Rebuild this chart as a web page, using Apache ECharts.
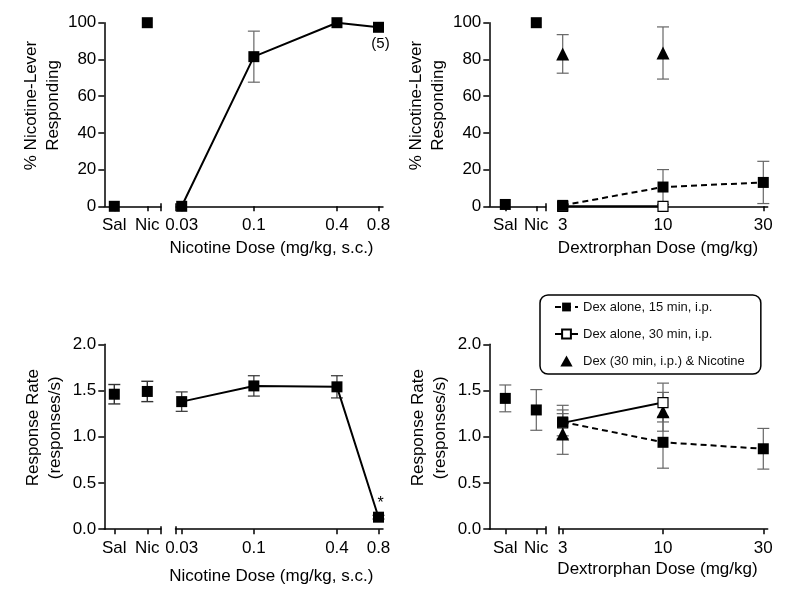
<!DOCTYPE html>
<html><head><meta charset="utf-8">
<script src="https://cdn.jsdelivr.net/npm/echarts@6/dist/echarts.min.js"></script>
<style>html,body{margin:0;padding:0;background:#fff}#c{width:800px;height:599px}</style>
</head><body><div id="c"></div>
<script>
// ---------------- data ----------------
const ctrlCats = ['Sal', 'Nic'];
const nicDoses = [0.03, 0.1, 0.4, 0.8];
const dexDoses = ['3', '10', '30'];
const pctTicks = [0, 20, 40, 60, 80, 100];
const rateTicks = [0, 0.5, 1.0, 1.5, 2.0];
const seriesNames = ['Dex alone, 15 min, i.p.', 'Dex alone, 30 min, i.p.', 'Dex (30 min, i.p.) & Nicotine'];

// Panel A (top-left): % nicotine-lever responding, nicotine doses
const aCtrlMean = [0, 100];
const aCtrlSem = [0, 0];
const aNicMean = [0, 81.5, 100, 97.5];
const aNicSem = [0, 13.9, 0, 0];
const aNicNote = ['', '', '', '(5)'];

// Panel B (top-right): % nicotine-lever responding, dextrorphan
const bCtrlMean = [1, 100];
const bCtrlSem = [0, 0];
const bDex15Mean = [0.5, 10.5, 13];
const bDex15Sem = [0, 9.5, 11.5];
const bDex30Mean = [0, 0, null];
const bDex30Sem = [0, 0, null];
const bDexNicMean = [83, 83.5, null];
const bDexNicSem = [10.5, 14.2, null];

// Panel C (bottom-left): response rate, nicotine doses
const cCtrlMean = [1.46, 1.49];
const cCtrlSem = [0.105, 0.11];
const cNicMean = [1.38, 1.55, 1.54, 0.13];
const cNicSem = [0.105, 0.11, 0.12, 0.02];
const cNicNote = ['', '', '', '*'];

// Panel D (bottom-right): response rate, dextrorphan
const dCtrlMean = [1.415, 1.29];
const dCtrlSem = [0.145, 0.22];
const dDex15Mean = [1.16, 0.94, 0.87];
const dDex15Sem = [0.18, 0.28, 0.22];
const dDex30Mean = [1.15, 1.37, null];
const dDex30Sem = [0.14, 0.21, null];
const dDexNicMean = [1.03, 1.27, null];
const dDexNicSem = [0.22, 0.21, null];

// ---------------- layout / style ----------------
const F = '"Liberation Sans", Arial, Helvetica, sans-serif';
const BLACK = '#000';
const AX = {color: BLACK, width: 1.5};
const LAY = {
  A: {yx: 104.3, sal: 114.3, nic: 147.3, ce: 161, ds: 176.2, d0: 181.7, d1: 378.5, de: 383, top: 22.7, bot: 206.3},
  B: {yx: 489.3, sal: 505.3, nic: 536.3, ce: 545.7, ds: 559, d0: 562.7, d1: 763.3, de: 767.7, top: 22.7, bot: 206.3},
  C: {yx: 104.3, sal: 114.3, nic: 147.3, ce: 161, ds: 175.5, d0: 181.7, d1: 378.5, de: 383, top: 344.3, bot: 529.2},
  D: {yx: 489.3, sal: 505.3, nic: 536.3, ce: 545.7, ds: 559, d0: 562.7, d1: 763.3, de: 767.7, top: 344.3, bot: 529.2}
};

const grid = [], xAxis = [], yAxis = [], series = [];
function addGrid(l, r, t, b) {
  grid.push({left: l, top: t, width: r - l, height: b - t, containLabel: false, outerBoundsMode: 'none'});
  return grid.length - 1;
}
const lbl = {color: BLACK, fontFamily: F, fontSize: 17, margin: 11};
function frameX(gi, cap) {
  xAxis.push({gridIndex: gi, type: 'value', min: 0, max: 1, position: 'bottom',
    axisLine: {show: true, onZero: false, lineStyle: AX},
    axisTick: {show: true, customValues: [cap], length: 5, inside: false, lineStyle: AX},
    axisLabel: {show: false}, splitLine: {show: false}});
  xAxis.push({gridIndex: gi, type: 'value', min: 0, max: 1, position: 'bottom',
    axisLine: {show: false, onZero: false},
    axisTick: {show: true, customValues: [cap], length: 3, inside: true, lineStyle: AX},
    axisLabel: {show: false}, splitLine: {show: false}});
}
function hiddenY(gi, ticks) {
  yAxis.push({gridIndex: gi, type: 'value', min: ticks[0], max: ticks[ticks.length - 1], show: false});
  return yAxis.length - 1;
}
function visibleY(gi, ticks, fmt, name, shift) {
  yAxis.push({gridIndex: gi, type: 'value', position: 'left', min: ticks[0], max: ticks[ticks.length - 1],
    axisLine: {show: true, onZero: false, lineStyle: AX},
    axisTick: {show: true, length: 6, customValues: ticks, lineStyle: AX},
    axisLabel: {customValues: ticks, formatter: fmt, color: BLACK, fontFamily: F, fontSize: 17, margin: 8},
    splitLine: {show: false},
    name: name, nameLocation: 'middle', nameRotate: 90, nameGap: 38,
    nameTextStyle: {fontFamily: F, fontSize: 17, color: BLACK, lineHeight: 22, padding: [0, 0, 0, shift]}});
}
function errBars(xi, yi, xs, means, sems, color, w) {
  const data = [];
  xs.forEach((x, i) => { if (means[i] != null && sems[i]) data.push([x, means[i], sems[i]]); });
  return {type: 'custom', xAxisIndex: xi, yAxisIndex: yi, z: 1, silent: true, clip: false, data: data,
    renderItem: function (params, api) {
      const x = api.value(0), m = api.value(1), s = api.value(2);
      const hi = api.coord([x, m + s]), lo = api.coord([x, m - s]);
      const c = 6, st = {stroke: color, lineWidth: w};
      return {type: 'group', children: [
        {type: 'line', shape: {x1: hi[0], y1: hi[1], x2: lo[0], y2: lo[1]}, style: st},
        {type: 'line', shape: {x1: hi[0] - c, y1: hi[1], x2: hi[0] + c, y2: hi[1]}, style: st},
        {type: 'line', shape: {x1: lo[0] - c, y1: lo[1], x2: lo[0] + c, y2: lo[1]}, style: st}
      ]};
    }};
}
function pairs(xs, means) {
  return xs.map((x, i) => [x, means[i]]).filter(p => p[1] != null);
}
function scatterSeries(xi, yi, xs, means, sym, z, name) {
  const s = {type: 'scatter', xAxisIndex: xi, yAxisIndex: yi, z: z, silent: true, clip: false,
    symbol: sym, symbolSize: sym === 'triangle' ? 13 : 11,
    itemStyle: {color: BLACK, opacity: 1}, data: pairs(xs, means)};
  if (name) s.name = name;
  return s;
}
function lineSeries(xi, yi, xs, means, opt) {
  let data = pairs(xs, means);
  if (opt.notes) {
    data = data.map((p, i) => opt.notes[i] ? {value: p, label: Object.assign({show: true, formatter: opt.notes[i],
      color: BLACK, fontFamily: F}, opt.noteStyle)} : p);
  }
  const s = {type: 'line', xAxisIndex: xi, yAxisIndex: yi, z: opt.z || 5, silent: true, clip: false,
    symbol: 'rect', symbolSize: opt.open ? 10 : 11, showSymbol: true, showAllSymbol: true,
    itemStyle: opt.open ? {color: '#fff', borderColor: BLACK, borderWidth: 1.2, opacity: 1} : {color: BLACK, opacity: 1},
    lineStyle: {color: BLACK, width: 2, type: opt.dashed ? [6, 4] : 'solid'},
    data: data, animation: false};
  if (opt.name) s.name = opt.name;
  return s;
}

function buildPanel(L, ticks, fmt, yName, isNic) {
  // frames
  const g0 = addGrid(L.yx, L.ce, L.top, L.bot);
  frameX(g0, 1);
  visibleY(g0, ticks, fmt, yName, 18);
  const g2 = addGrid(L.ds, L.de, L.top, L.bot);
  frameX(g2, 0);
  hiddenY(g2, ticks);
  // control data grid
  const g1 = addGrid(L.sal, L.nic, L.top, L.bot);
  xAxis.push({gridIndex: g1, type: 'category', data: ctrlCats, boundaryGap: false, position: 'bottom',
    axisLine: {show: false, onZero: false}, axisTick: {show: true, length: 5, interval: 0, lineStyle: AX},
    axisLabel: Object.assign({interval: 0}, lbl), splitLine: {show: false}});
  const cx = xAxis.length - 1, cy = hiddenY(g1, ticks);
  // dose data grid
  const g3 = addGrid(L.d0, L.d1, L.top, L.bot);
  if (isNic) {
    xAxis.push({gridIndex: g3, type: 'log', logBase: 10, min: nicDoses[0], max: nicDoses[nicDoses.length - 1], position: 'bottom',
      axisLine: {show: false, onZero: false},
      axisTick: {show: true, length: 5, customValues: nicDoses, lineStyle: AX},
      axisLabel: Object.assign({customValues: nicDoses, formatter: v => String(+(+v).toPrecision(2))}, lbl),
      splitLine: {show: false}, minorTick: {show: false}, minorSplitLine: {show: false}});
  } else {
    xAxis.push({gridIndex: g3, type: 'category', data: dexDoses, boundaryGap: false, position: 'bottom',
      axisLine: {show: false, onZero: false}, axisTick: {show: true, length: 5, interval: 0, lineStyle: AX},
      axisLabel: Object.assign({interval: 0}, lbl), splitLine: {show: false}});
  }
  const dx = xAxis.length - 1, dy = hiddenY(g3, ticks);
  return {cx, cy, dx, dy};
}

const pA = buildPanel(LAY.A, pctTicks, v => String(v), '% Nicotine-Lever\nResponding', true);
const pB = buildPanel(LAY.B, pctTicks, v => String(v), '% Nicotine-Lever\nResponding', false);
const pC = buildPanel(LAY.C, rateTicks, v => (+v).toFixed(1), 'Response Rate\n(responses/s)', true);
const pD = buildPanel(LAY.D, rateTicks, v => (+v).toFixed(1), 'Response Rate\n(responses/s)', false);

const GREY = '#666';
// Panel A
series.push(errBars(pA.cx, pA.cy, ctrlCats, aCtrlMean, aCtrlSem, GREY, 1.2));
series.push(scatterSeries(pA.cx, pA.cy, ctrlCats, aCtrlMean, 'rect', 5));
series.push(errBars(pA.dx, pA.dy, nicDoses, aNicMean, aNicSem, GREY, 1.2));
series.push(lineSeries(pA.dx, pA.dy, nicDoses, aNicMean, {notes: aNicNote,
  noteStyle: {position: 'bottom', distance: 4, offset: [2, 0], fontSize: 15}}));
// Panel B
series.push(errBars(pB.cx, pB.cy, ctrlCats, bCtrlMean, bCtrlSem, GREY, 1.2));
series.push(scatterSeries(pB.cx, pB.cy, ctrlCats, bCtrlMean, 'rect', 5));
series.push(errBars(pB.dx, pB.dy, dexDoses, bDexNicMean, bDexNicSem, GREY, 1.2));
series.push(errBars(pB.dx, pB.dy, dexDoses, bDex30Mean, bDex30Sem, GREY, 1.2));
series.push(errBars(pB.dx, pB.dy, dexDoses, bDex15Mean, bDex15Sem, GREY, 1.2));
series.push(scatterSeries(pB.dx, pB.dy, dexDoses, bDexNicMean, 'triangle', 3, seriesNames[2]));
series.push(lineSeries(pB.dx, pB.dy, dexDoses, bDex30Mean, {open: true, z: 4, name: seriesNames[1]}));
series.push(lineSeries(pB.dx, pB.dy, dexDoses, bDex15Mean, {dashed: true, z: 5, name: seriesNames[0]}));
// Panel C
const DARK = '#333';
series.push(errBars(pC.cx, pC.cy, ctrlCats, cCtrlMean, cCtrlSem, DARK, 1.4));
series.push(scatterSeries(pC.cx, pC.cy, ctrlCats, cCtrlMean, 'rect', 5));
series.push(errBars(pC.dx, pC.dy, nicDoses, cNicMean, cNicSem, DARK, 1.2));
series.push(lineSeries(pC.dx, pC.dy, nicDoses, cNicMean, {notes: cNicNote,
  noteStyle: {position: 'top', distance: 0, offset: [2, 0], fontSize: 16}}));
// Panel D
series.push(errBars(pD.cx, pD.cy, ctrlCats, dCtrlMean, dCtrlSem, GREY, 1.2));
series.push(scatterSeries(pD.cx, pD.cy, ctrlCats, dCtrlMean, 'rect', 5));
series.push(errBars(pD.dx, pD.dy, dexDoses, dDexNicMean, dDexNicSem, GREY, 1.2));
series.push(errBars(pD.dx, pD.dy, dexDoses, dDex30Mean, dDex30Sem, GREY, 1.2));
series.push(errBars(pD.dx, pD.dy, dexDoses, dDex15Mean, dDex15Sem, GREY, 1.2));
series.push(scatterSeries(pD.dx, pD.dy, dexDoses, dDexNicMean, 'triangle', 3, seriesNames[2]));
series.push(lineSeries(pD.dx, pD.dy, dexDoses, dDex30Mean, {open: true, z: 4, name: seriesNames[1]}));
series.push(lineSeries(pD.dx, pD.dy, dexDoses, dDex15Mean, {dashed: true, z: 5, name: seriesNames[0]}));

function xTitle(x, y, text) {
  return {type: 'text', x: x, y: y, silent: true,
    style: {text: text, fill: BLACK, font: '17px ' + F, align: 'center', verticalAlign: 'middle'}};
}

const chart = echarts.init(document.getElementById('c'));
chart.setOption({
  animation: false,
  backgroundColor: '#fff',
  textStyle: {fontFamily: F},
  grid: grid, xAxis: xAxis, yAxis: yAxis, series: series,
  legend: {
    data: [
      {name: seriesNames[0]},
      {name: seriesNames[1]},
      {name: seriesNames[2], icon: 'path://M5,0 L10,9 L0,9 Z'}
    ],
    orient: 'vertical', left: 540, top: 295,
    padding: [5, 16, 6, 14], itemWidth: 23, itemHeight: 11, itemGap: 13,
    symbolKeepAspect: true,
    selectedMode: false,
    textStyle: {fontFamily: F, fontSize: 13, color: '#111', lineHeight: 14},
    borderColor: BLACK, borderWidth: 1.5, borderRadius: 8, backgroundColor: '#fff'
  },
  graphic: [
    xTitle(271.5, 248, 'Nicotine Dose (mg/kg, s.c.)'),
    xTitle(658, 248, 'Dextrorphan Dose (mg/kg)'),
    xTitle(271.3, 576, 'Nicotine Dose (mg/kg, s.c.)'),
    xTitle(657.5, 569.5, 'Dextrorphan Dose (mg/kg)')
  ]
});
</script>
</body></html>
